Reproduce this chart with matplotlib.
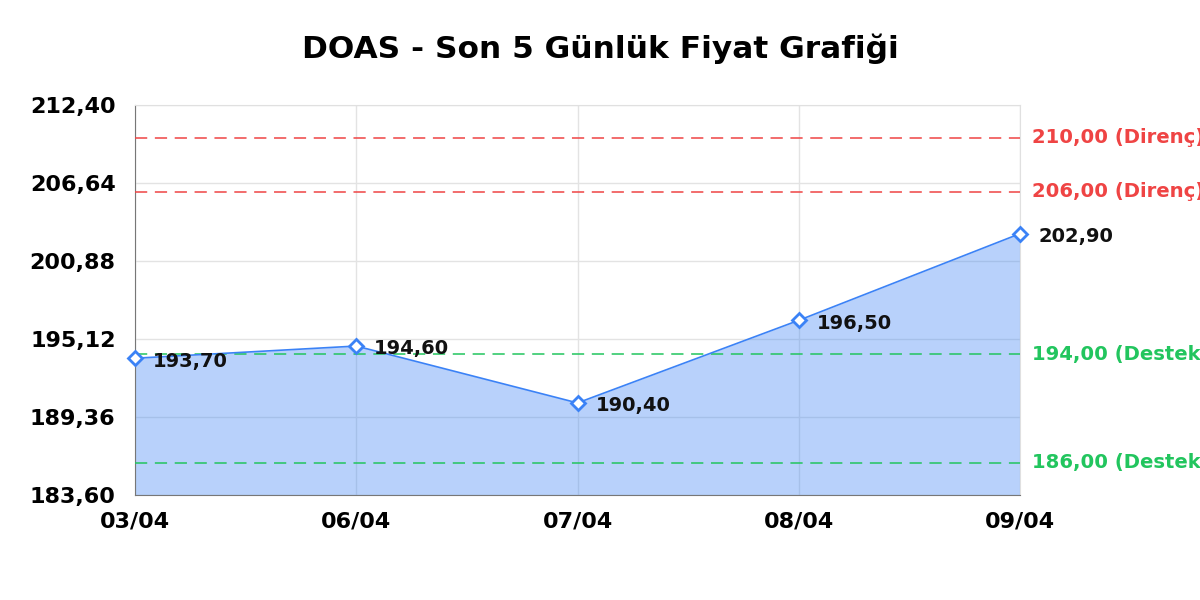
import matplotlib
matplotlib.use("Agg")
import matplotlib.pyplot as plt
import numpy as np

dates = ["03/04", "06/04", "07/04", "08/04", "09/04"]
prices = [193.70, 194.60, 190.40, 196.50, 202.90]
resistance = [210.00, 206.00]
support = [194.00, 186.00]
y_ticks = [183.60, 189.36, 195.12, 200.88, 206.64, 212.40]

def tr(v):
    return f"{v:.2f}".replace(".", ",")

fig = plt.figure(figsize=(12, 6), dpi=100)
ax = fig.add_axes([0.1125, 0.175, 0.7375, 0.65])
x = np.arange(len(dates))

ax.fill_between(x, prices, y_ticks[0], color="#3b82f6", alpha=0.36, lw=0, zorder=2)
ax.plot(x, prices, color="#3b82f6", lw=1.2, zorder=4)
ax.plot(x, prices, "D", ms=7, mfc="white", mec="#3b82f6", mew=2, zorder=5, clip_on=False)

for xi, p in zip(x, prices):
    ax.annotate(tr(p), (xi, p), xytext=(13, -2), textcoords="offset points",
                ha="left", va="center", fontsize=14, fontweight="bold", color="#111", zorder=6,
                annotation_clip=False)

# direnç / destek seviyeleri
for lvl in resistance:
    ax.axhline(lvl, color="#ef4444", lw=1.1, ls=(0, (8, 5)), zorder=3)
    ax.annotate(f"{tr(lvl)} (Direnç)", (1, lvl), xycoords=("axes fraction", "data"),
                xytext=(9, 0), textcoords="offset points", ha="left", va="center",
                fontsize=14.1, fontweight="bold", color="#ef4444", annotation_clip=False)
for lvl in support:
    ax.axhline(lvl, color="#22c55e", lw=1.1, ls=(0, (8, 5)), zorder=3)
    ax.annotate(f"{tr(lvl)} (Destek)", (1, lvl), xycoords=("axes fraction", "data"),
                xytext=(9, 0), textcoords="offset points", ha="left", va="center",
                fontsize=14.1, fontweight="bold", color="#22c55e", annotation_clip=False)

ax.set_xlim(0, len(dates) - 1)
ax.set_ylim(y_ticks[0], y_ticks[-1])
ax.set_xticks(x)
ax.set_xticklabels(dates, fontsize=16, fontweight="bold")
ax.set_yticks(y_ticks)
ax.set_yticklabels([tr(v) for v in y_ticks], fontsize=16, fontweight="bold")
ax.tick_params(length=0, pad=12)
ax.tick_params(axis="y", pad=14)
ax.grid(True, color="#e3e3e3", lw=1, zorder=1)
ax.set_axisbelow(True)
for s in ["left", "bottom"]:
    ax.spines[s].set_color("#777")
for s in ["top", "right"]:
    ax.spines[s].set_color("#e0e0e0")

fig.suptitle("DOAS - Son 5 Günlük Fiyat Grafiği", fontsize=22.5, fontweight="bold", y=0.945)
fig.savefig("out.png", dpi=100)
